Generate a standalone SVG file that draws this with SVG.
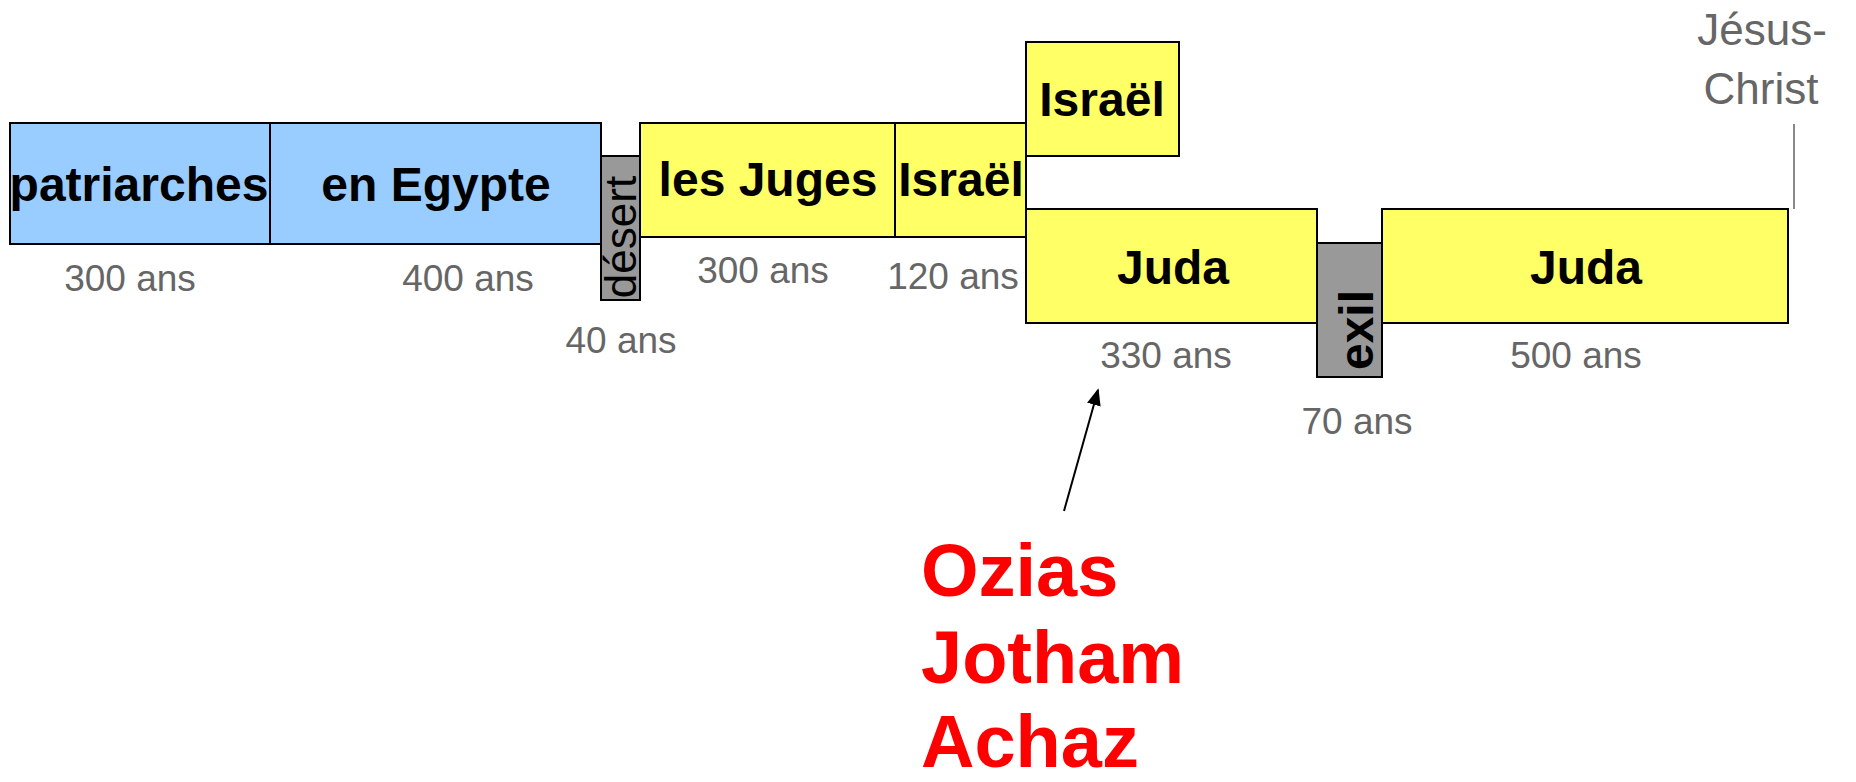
<svg xmlns="http://www.w3.org/2000/svg" width="1856" height="782" viewBox="0 0 1856 782">
<style>
.box{stroke:#000;stroke-width:2}
.blue{fill:#99CCFF}
.yel{fill:#FFFF66}
.gray{fill:#999999}
.t{font-family:"Liberation Sans",Arial,sans-serif;font-weight:bold;font-size:48px;fill:#000;text-anchor:middle}
.d{font-family:"Liberation Sans",Arial,sans-serif;font-size:37px;fill:#666666;text-anchor:middle}
.red{font-family:"Liberation Sans",Arial,sans-serif;font-weight:bold;font-size:74px;fill:#FF0000}
</style>
<defs>
<marker id="arr" viewBox="0 0 10 10" refX="9" refY="5" markerWidth="17" markerHeight="14" orient="auto" markerUnits="userSpaceOnUse" preserveAspectRatio="none">
<path d="M0,0 L10,5 L0,10 z" fill="#000"/>
</marker>
</defs>
<rect width="1856" height="782" fill="#fff"/>
<g id="patriarches">
<rect class="box blue" x="10" y="123" width="260" height="121"/>
<text class="t" x="139" y="201">patriarches</text>
<text class="d" x="130" y="291">300 ans</text>
</g>
<g id="egypte">
<rect class="box blue" x="270" y="123" width="331" height="121"/>
<text class="t" x="436" y="201">en Egypte</text>
<text class="d" x="468" y="291">400 ans</text>
</g>
<g id="desert">
<rect class="box gray" x="601" y="156" width="39" height="144"/>
<text font-family="Liberation Sans, Arial, sans-serif" font-size="44" fill="#000" text-anchor="middle" transform="translate(636,237) rotate(-90)">désert</text>
<text class="d" x="621" y="353">40 ans</text>
</g>
<g id="juges">
<rect class="box yel" x="640" y="123" width="255" height="114"/>
<text class="t" x="768" y="196">les Juges</text>
<text class="d" x="763" y="283">300 ans</text>
</g>
<g id="israel1">
<rect class="box yel" x="895" y="123" width="131" height="114"/>
<text class="t" x="961" y="196">Israël</text>
<text class="d" x="953" y="289">120 ans</text>
</g>
<g id="israel2">
<rect class="box yel" x="1026" y="42" width="153" height="114"/>
<text class="t" x="1102" y="116">Israël</text>
</g>
<g id="juda1">
<rect class="box yel" x="1026" y="209" width="291" height="114"/>
<text class="t" x="1173" y="284">Juda</text>
<text class="d" x="1166" y="368">330 ans</text>
</g>
<g id="exil">
<rect class="box gray" x="1317" y="243" width="65" height="134"/>
<text class="t" font-size="46" transform="translate(1373,330) rotate(-90)">exil</text>
<text class="d" x="1357" y="434">70 ans</text>
</g>
<g id="juda2">
<rect class="box yel" x="1382" y="209" width="406" height="114"/>
<text class="t" x="1586" y="284">Juda</text>
<text class="d" x="1576" y="368">500 ans</text>
</g>
<g id="jesus">
<line x1="1794" y1="124" x2="1794" y2="209" stroke="#888" stroke-width="2"/>
<text font-family="Liberation Sans, Arial, sans-serif" font-size="44" fill="#666666" text-anchor="middle"><tspan x="1762" y="45">Jésus-</tspan><tspan x="1761" y="104">Christ</tspan></text>
</g>
<g id="rois">
<text class="red"><tspan x="921" y="596">Ozias</tspan><tspan x="921" y="683">Jotham</tspan><tspan x="921" y="767">Achaz</tspan></text>
</g>
<g id="connectors">
<line x1="1064" y1="511" x2="1098" y2="390" stroke="#000" stroke-width="2" marker-end="url(#arr)"/>
</g>
</svg>
